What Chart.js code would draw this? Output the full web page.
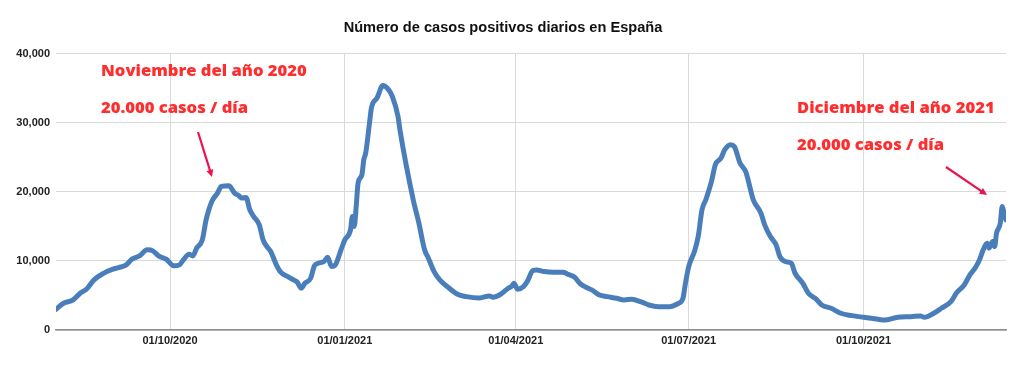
<!DOCTYPE html>
<html>
<head>
<meta charset="utf-8">
<style>
  html, body { margin: 0; padding: 0; background: #fff; }
  #wrap { width: 1024px; height: 366px; position: relative; }
</style>
</head>
<body>
<div id="wrap"><canvas id="casosChart"></canvas></div>

<script src="https://cdn.jsdelivr.net/npm/chart.js@4/dist/chart.umd.min.js"></script>
<script>
/* DATOS: casos positivos diarios */
var fechas = [
  '2020-08-02','2020-08-06','2020-08-11','2020-08-15','2020-08-18','2020-08-22','2020-08-27',
  '2020-09-01','2020-09-04','2020-09-08','2020-09-11','2020-09-15','2020-09-19','2020-09-22',
  '2020-09-25','2020-09-29','2020-10-03','2020-10-06','2020-10-08','2020-10-11','2020-10-13',
  '2020-10-15','2020-10-18','2020-10-20','2020-10-23','2020-10-26','2020-10-28','2020-11-01',
  '2020-11-04','2020-11-06','2020-11-08','2020-11-10','2020-11-12','2020-11-14','2020-11-17',
  '2020-11-19','2020-11-21','2020-11-23','2020-11-26','2020-11-28','2020-12-02','2020-12-05',
  '2020-12-07','2020-12-09','2020-12-11','2020-12-14','2020-12-16','2020-12-18','2020-12-21',
  '2020-12-23','2020-12-25','2020-12-27','2020-12-30','2021-01-01','2021-01-04','2021-01-05',
  '2021-01-06','2021-01-07','2021-01-08','2021-01-10','2021-01-11','2021-01-12','2021-01-14',
  '2021-01-15','2021-01-18','2021-01-21','2021-01-24','2021-01-26','2021-01-29','2021-01-30',
  '2021-02-06','2021-02-09','2021-02-12','2021-02-14','2021-02-17','2021-02-20','2021-02-25',
  '2021-03-01','2021-03-06','2021-03-13','2021-03-18','2021-03-20','2021-03-24','2021-03-28',
  '2021-03-30','2021-03-31','2021-04-02','2021-04-05','2021-04-07','2021-04-10','2021-04-12',
  '2021-04-16','2021-04-21','2021-04-26','2021-04-28','2021-05-02','2021-05-05','2021-05-08',
  '2021-05-11','2021-05-15','2021-05-19','2021-05-24','2021-05-28','2021-06-01','2021-06-06',
  '2021-06-10','2021-06-15','2021-06-21','2021-06-25','2021-06-28','2021-06-29','2021-07-01',
  '2021-07-04','2021-07-06','2021-07-08','2021-07-10','2021-07-13','2021-07-15','2021-07-18',
  '2021-07-20','2021-07-23','2021-07-25','2021-07-28','2021-07-31','2021-08-04','2021-08-08',
  '2021-08-10','2021-08-13','2021-08-16','2021-08-18','2021-08-21','2021-08-24','2021-08-26',
  '2021-08-30','2021-09-02','2021-09-06','2021-09-09','2021-09-14','2021-09-19','2021-09-25',
  '2021-10-01','2021-10-05','2021-10-08','2021-10-12','2021-10-19','2021-10-26','2021-10-31',
  '2021-11-02','2021-11-07','2021-11-11','2021-11-16','2021-11-19','2021-11-23','2021-11-26',
  '2021-11-29','2021-12-01','2021-12-03','2021-12-05','2021-12-06','2021-12-08','2021-12-09',
  '2021-12-10','2021-12-12','2021-12-13','2021-12-14','2021-12-15'
];
var casos = [
  3000, 3870, 4350, 5400, 5900, 7250, 8200,
  8800, 9030, 9420, 10250, 10720, 11600, 11450,
  10720, 10250, 9280, 9420, 10140, 10970, 10720,
  11840, 13040, 15940, 18600, 19800, 20770, 20870,
  19810, 19470, 19080, 19180, 17390, 16430, 15220,
  13040, 12070, 11350, 9420, 8450, 7720, 7250,
  6910, 6040, 6770, 7490, 9280, 9660, 9900,
  10530, 9180, 9420, 11600, 13040, 14490, 16430,
  14970, 17870, 21260, 22460, 24630, 25600, 29950,
  32120, 33570, 35360, 34780, 33810, 30910, 28980,
  18840, 15460, 11600, 10390, 8450, 7250, 6040,
  5220, 4830, 4640, 4930, 4740, 5170, 6040,
  6380, 6770, 5900, 6280, 7000, 8600, 8690,
  8450, 8360, 8360, 8110, 7630, 6670, 6190,
  5800, 5070, 4830, 4590, 4350, 4450, 4060,
  3620, 3380, 3380, 3770, 4590, 6280, 9180,
  11350, 13520, 17390, 18840, 21490, 23910, 24880,
  26080, 26810, 26560, 24150, 22900, 18840, 16910,
  15220, 13520, 12320, 10620, 9900, 9660, 8210,
  6770, 5320, 4490, 3620, 3140, 2420, 2080,
  1840, 1690, 1590, 1450, 1840, 1930, 2030,
  1840, 2420, 3140, 4100, 5400, 6520, 7970,
  9080, 10140, 11590, 12560, 11840, 12800, 12070,
  14010, 15460, 17870, 16910, 15940
];
var tickFechas = ['2020-10-01', '2021-01-01', '2021-04-01', '2021-07-01', '2021-10-01'];
var inicioEje = '2020-08-02';
var finEje = '2021-12-15';

var DIA = 86400000;
function aDia(s) {
  var p = s.split('-');
  return Date.UTC(+p[0], +p[1] - 1, +p[2]) / DIA;
}
function etiqueta(d) {
  var f = new Date(d * DIA);
  var dd = String(f.getUTCDate()).padStart(2, '0');
  var mm = String(f.getUTCMonth() + 1).padStart(2, '0');
  return dd + '/' + mm + '/' + f.getUTCFullYear();
}

var puntos = fechas.map(function (f, i) { return { x: aDia(f), y: casos[i] }; });

/* anotaciones en rojo con flechas */
var anotaciones = {
  id: 'anotaciones',
  afterDraw: function (chart) {
    var c = chart.ctx;
    c.save();
    c.fillStyle = '#ff2d2d';
    c.font = '800 16.6px "Open Sans"';
    c.textBaseline = 'alphabetic';
    c.textAlign = 'left';
    c.fillText('Noviembre del año 2020', 101, 76);
    c.fillText('20.000 casos / día', 101, 113);
    c.fillText('Diciembre del año 2021', 797, 113);
    c.fillText('20.000 casos / día', 797, 150);
    flecha(c, 198, 132, 212, 177);
    flecha(c, 946, 167, 987, 195);
    c.restore();
  }
};
function flecha(c, x1, y1, x2, y2) {
  var a = Math.atan2(y2 - y1, x2 - x1);
  var h = 8;
  c.strokeStyle = '#e8134f';
  c.fillStyle = '#e8134f';
  c.lineWidth = 2.2;
  c.beginPath();
  c.moveTo(x1, y1);
  c.lineTo(x2 - Math.cos(a) * h * 0.8, y2 - Math.sin(a) * h * 0.8);
  c.stroke();
  c.beginPath();
  c.moveTo(x2, y2);
  c.lineTo(x2 - h * Math.cos(a - 0.45), y2 - h * Math.sin(a - 0.45));
  c.lineTo(x2 - h * Math.cos(a + 0.45), y2 - h * Math.sin(a + 0.45));
  c.closePath();
  c.fill();
}

var ctx = document.getElementById('casosChart');
var myChart = new Chart(ctx, {
  type: 'line',
  data: {
    datasets: [{
      label: 'Casos positivos diarios',
      data: puntos,
      borderColor: '#4a7ebb',
      borderWidth: 5,
      pointRadius: 0,
      cubicInterpolationMode: 'monotone',
      borderCapStyle: 'round',
      borderJoinStyle: 'round'
    }]
  },
  options: {
    responsive: true,
    maintainAspectRatio: false,
    animation: false,
    layout: { padding: { left: 0, right: 18, top: 0, bottom: 0 } },
    plugins: {
      legend: { display: false },
      tooltip: { enabled: false },
      title: {
        display: true,
        text: 'Número de casos positivos diarios en España',
        color: '#111',
        font: { family: '"Liberation Sans", Arial, sans-serif', size: 14.6, weight: 'bold' },
        padding: { top: 19, bottom: 17 }
      }
    },
    scales: {
      x: {
        type: 'linear',
        min: aDia(inicioEje),
        max: aDia(finEje),
        afterBuildTicks: function (scale) {
          scale.ticks = tickFechas.map(function (f) { return { value: aDia(f) }; });
        },
        afterFit: function (scale) { scale.height = 36; },
        ticks: {
          callback: function (v) { return etiqueta(v); },
          color: '#222',
          font: { family: '"Liberation Sans", Arial, sans-serif', size: 11, weight: 'bold' },
          padding: 4,
          maxRotation: 0,
          autoSkip: false
        },
        grid: { color: '#d9d9d9', lineWidth: 1, drawTicks: false },
        border: { display: true, color: '#8c8c8c', width: 1.5 }
      },
      y: {
        min: 0,
        max: 40000,
        afterFit: function (scale) { scale.width = 56; },
        ticks: {
          stepSize: 10000,
          callback: function (v) { return v.toLocaleString('en-US'); },
          color: '#222',
          font: { family: '"Liberation Sans", Arial, sans-serif', size: 11, weight: 'bold' },
          padding: 6
        },
        grid: { color: '#d9d9d9', lineWidth: 1, drawTicks: false },
        border: { display: false }
      }
    }
  },
  plugins: [anotaciones]
});
</script>
</body>
</html>
